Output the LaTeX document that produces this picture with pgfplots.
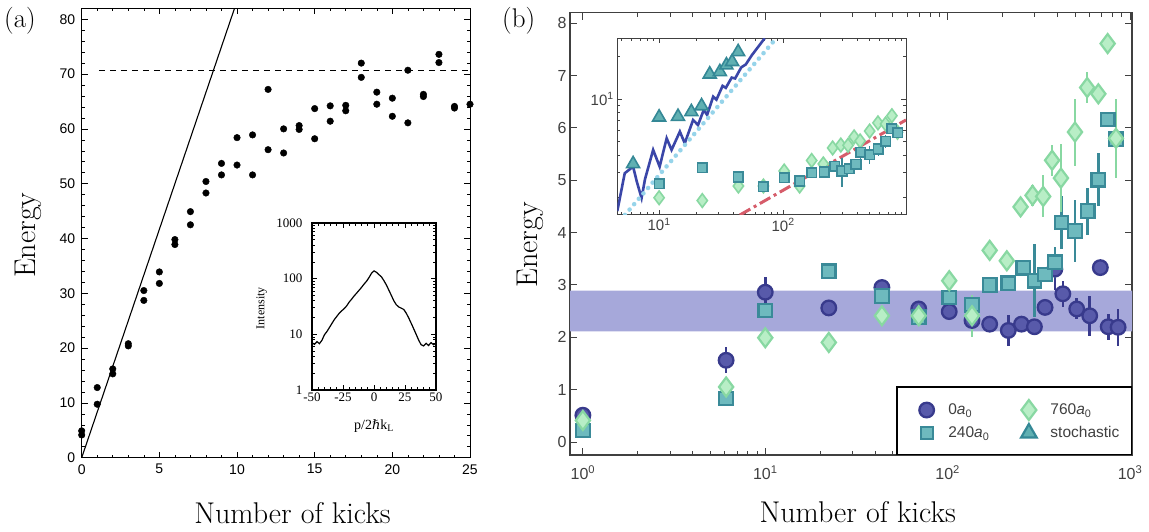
\documentclass[border=0pt]{standalone}
\usepackage{fontspec}
\usepackage{pgfplots}
\pgfplotsset{compat=1.18}
\usepackage{pgfplotstable}
\newfontfamily\helv{Liberation Sans}
\newfontfamily\timesf{Liberation Serif}
\newfontfamily\djs{DejaVu Serif}

\definecolor{circfill}{RGB}{88,90,170}
\definecolor{circedge}{RGB}{56,58,140}
\definecolor{sqfill}{RGB}{110,186,190}
\definecolor{sqedge}{RGB}{58,138,152}
\definecolor{dmfill}{RGB}{184,238,198}
\definecolor{dmedge}{RGB}{136,216,162}
\definecolor{trfill}{RGB}{96,176,178}
\definecolor{tredge}{RGB}{52,136,150}
\definecolor{bandcol}{RGB}{166,168,218}
\definecolor{lineblue}{RGB}{58,70,168}
\definecolor{dotcyan}{RGB}{150,212,234}
\definecolor{dashred}{RGB}{214,92,106}
\definecolor{tickgray}{RGB}{64,64,64}

% ---------- panel (a) data ----------
\pgfplotstableread{
x y
0 4.9
0 4.15
1 12.8
1 9.76
2 16.2
2 15.3
3 20.8
3 20.4
4 30.5
4 28.7
5 33.9
5 31.8
6 39.8
6 38.9
7 44.9
7 42.5
8 50.4
8 48.3
9 53.7
9 51.6
10 58.4
10 53.4
11 58.9
11 51.6
12 67.2
12 56.2
13 60.0
13 55.6
14 60.6
14 59.9
15 63.7
15 58.2
16 64.2
16 61.4
17 64.3
17 63.3
18 72.0
18 69.4
19 66.7
19 64.5
20 65.6
20 62.3
21 70.7
21 61.1
22 66.3
22 65.9
23 73.6
23 72.1
24 64.1
24 63.8
25 64.5
}\kicksdata

\pgfplotstableread{
x y
-50 7.1
-48 6.6
-46 7.4
-44 6.8
-42 7.8
-40 9.8
-38 11.2
-36 13.2
-34 15.6
-32 18.4
-30 21.0
-28 24.0
-26 26.5
-24 29.0
-22 32.5
-20 38
-18 43
-16 49
-14 55
-12 62
-10 70
-8 80
-6 90
-4 105
-2 125
0 138
2 130
4 118
6 108
8 92
10 77
12 62
14 50
16 40
18 34
20 31
22 29.5
24 28
26 24
28 19.7
30 15.8
32 12.6
34 10
36 7.9
38 6.5
40 6.2
42 6.9
44 6.3
46 7.1
48 6.5
50 6.9
}\intensdata

% ---------- panel (b) data ----------
\pgfplotstableread{
x y e
1 0.51 0.05
6.1 1.56 0.25
10 2.86 0.3
22.3 2.56 0.08
43.6 2.95 0.1
69.4 2.54 0.15
102 2.49 0.08
136 2.32 0.12
170 2.25 0.08
215 2.13 0.3
254 2.25 0.1
299 2.20 0.1
342 2.57 0.15
387 3.30 0.4
428 2.83 0.25
510 2.54 0.2
601 2.41 0.38
687 3.33 0.15
759 2.20 0.25
860 2.19 0.35
}\circdata

\pgfplotstableread{
x y e
1 0.22 0.05
6.1 0.83 0.05
10 2.51 0.12
22.3 3.26 0.12
43.6 2.79 0.1
69.4 2.38 0.08
102 2.76 0.1
136 2.62 0.1
170 3.00 0.15
215 3.03 0.1
260 3.33 0.1
299 3.08 0.7
342 3.20 0.1
387 3.43 0.3
421 4.19 0.5
499 4.03 0.6
586 4.41 0.45
670 5.01 0.5
754 6.16 0.15
837 5.78 0.15
}\sqdata

\pgfplotstableread{
x y e
1 0.41 0.05
6.1 1.05 0.05
10 1.99 0.05
22.3 1.90 0.05
43.6 2.41 0.05
69.4 2.41 0.08
102 3.08 0.1
136 2.41 0.4
170 3.66 0.1
211 3.46 0.1
251 4.49 0.15
292 4.71 0.2
334 4.69 0.4
374 5.38 0.3
418 5.04 0.65
499 5.92 0.64
582 6.77 0.3
670 6.65 0.1
754 7.61 0.1
837 5.80 0.75
}\dmdata

\pgfplotstableread{
x y
6.17 3.46
10 7.42
14.2 7.5
18.2 8.1
22 8.92
25.6 15
30.9 15.6
34.9 17.4
38.8 18.4
43.4 21.6
}\trdata

\pgfplotstableread{
x y
4.6 1.6
5.28 2.97
6.17 3.31
6.6 2.6
7.22 1.98
7.7 2.7
8.95 4.35
10.1 3.31
11.5 5.26
12.6 4.35
14.7 5.87
16.1 4.85
18.8 7.1
20.6 6.54
22.9 8.36
24.4 7.71
27.3 10.4
29.0 9.9
32.5 12.4
34.5 12.0
38.5 14.2
41 14.0
46 16.8
50 17.6
56 20.5
63 23.5
71 27
}\bluedata

\begin{document}
\begin{tikzpicture}
\path[use as bounding box] (0pt,0pt) rectangle (1149pt,531pt);

\node[anchor=north west, inner sep=0pt, font=\fontsize{27}{30}\selectfont] at (4pt,524pt) {(a)};
\node[anchor=north west, inner sep=0pt, font=\fontsize{27}{30}\selectfont] at (502pt,524pt) {(b)};

% ================= panel (a) =================
\begin{axis}[
  at={(81.7pt,73.3pt)}, anchor=south west, scale only axis,
  width=388.3pt, height=449.4pt,
  xmin=0, xmax=25, ymin=0, ymax=82,
  xtick={0,5,10,15,20,25}, xticklabels={0,5,10,15,20,25},
  ytick={0,10,20,30,40,50,60,70,80}, yticklabels={0,10,20,30,40,50,60,70,80},
  minor x tick num=4, minor y tick num=4,
  tick align=inside, major tick length=6pt, minor tick length=3pt,
  ticklabel style={font=\helv\fontsize{14}{16}\selectfont},
  yticklabel style={xshift=-3pt},
  xticklabel style={yshift=-3pt},
  axis line style={line width=0.8pt},
  every tick/.style={black, line width=0.6pt},
  xlabel={Number of kicks}, ylabel={Energy},
  label style={font=\fontsize{30}{34}\selectfont},
  xlabel style={at={(axis description cs:0.543,-0.146)}, anchor=base},
  ylabel style={at={(axis description cs:-0.118,0.495)}, anchor=base},
]
\addplot[black, line width=1.1pt] coordinates {(0,0) (9.84,82)};
\addplot[black, line width=0.9pt, dash pattern=on 6pt off 5pt] coordinates {(1.1,70.6) (25,70.6)};
\addplot[only marks, mark=*, mark size=3.3pt, black] table[x=x,y=y] {\kicksdata};
\end{axis}

% inset (a)
\begin{axis}[
  at={(312pt,141pt)}, anchor=south west, scale only axis,
  width=124pt, height=167pt,
  ymode=log, xmin=-50, xmax=50, ymin=1, ymax=1000,
  xtick={-50,-25,0,25,50}, xticklabels={-50,-25,0,25,50},
  minor x tick num=4,
  ytick={1,10,100,1000}, yticklabels={1,10,100,1000},
  minor ytick={2,3,...,9,20,30,...,90,200,300,...,900},
  tick align=inside, major tick length=5pt, minor tick length=3pt,
  ticklabel style={font=\timesf\fontsize{13}{15}\selectfont},
  yticklabel style={xshift=-6pt},
  xticklabel style={yshift=1pt},
  axis line style={line width=1.2pt},
  every tick/.style={black, line width=0.7pt},
  xlabel={p/2{\djs\fontsize{13}{15}\selectfont ℏ}k\textsubscript{L}}, ylabel={Intensity},
  xlabel style={font=\timesf\fontsize{14}{16}\selectfont, at={(axis description cs:0.5,0)}, anchor=north, yshift=-26pt},
  ylabel style={font=\timesf\fontsize{12}{14}\selectfont, at={(axis description cs:-0.405,0.49)}, anchor=center},
  axis background/.style={fill=white},
]
\addplot[black, line width=1.2pt] table[x=x,y=y] {\intensdata};
\end{axis}

% ================= panel (b) =================
\begin{axis}[
  at={(570pt,76pt)}, anchor=south west, scale only axis,
  width=562pt, height=442.3pt,
  xmode=log, xmin=0.85, xmax=1025, ymin=-0.25, ymax=8.2,
  xtick={1,10,100,1000},
  xticklabels={{10\textsuperscript{0}},{10\textsuperscript{1}},{10\textsuperscript{2}},{10\textsuperscript{3}}},
  minor xtick={2,3,...,9,20,30,...,90,200,300,...,900},
  ytick={0,1,2,3,4,5,6,7,8}, yticklabels={0,1,2,3,4,5,6,7,8},
  tick align=inside, major tick length=7pt, minor tick length=4pt,
  ticklabel style={font=\helv\fontsize{16}{18}\selectfont, text=tickgray},
  xticklabel style={yshift=-7pt},
  axis line style={draw=tickgray, line width=1.1pt},
  every tick/.style={tickgray, line width=0.8pt},
  xlabel={Number of kicks}, ylabel={Energy},
  label style={font=\fontsize{30}{34}\selectfont},
  xlabel style={at={(axis description cs:0.512,-0.153)}, anchor=base},
  ylabel style={at={(axis description cs:-0.057,0.475)}, anchor=base},
  legend columns=2,
  legend cell align=left,
  legend style={at={(1,0)}, anchor=south east, draw=black, line width=1.2pt,
    font=\helv\fontsize{15.5}{18}\selectfont, text=tickgray,
    inner xsep=10pt, inner ysep=13pt, row sep=4pt,
    nodes={inner xsep=2pt},
    /tikz/every even column/.append style={column sep=18pt}},
  legmark/.style={legend image code/.code={\path (0pt,0pt) (38pt,0pt); \draw[##1, draw=none] plot coordinates {(19pt,0pt)};}},
]
\addplot[forget plot, draw=none, fill=bandcol] coordinates {(0.85,2.11) (1025,2.11) (1025,2.89) (0.85,2.89) (0.85,2.11)};

% error bars (behind markers)
\addplot[forget plot, only marks, mark=none, error bars/.cd, y dir=both, y explicit, error mark=none,
  error bar style={draw=circedge, line width=2.6pt}] table[x=x,y=y,y error=e] {\circdata};
\addplot[forget plot, only marks, mark=*, mark size=7.3pt, mark options={fill=circfill, draw=circedge, line width=2.3pt}] table[x=x,y=y] {\circdata};

\addplot[forget plot, only marks, mark=none, error bars/.cd, y dir=both, y explicit, error mark=none,
  error bar style={draw=sqedge, line width=2.6pt}] table[x=x,y=y,y error=e] {\sqdata};
\addplot[forget plot, only marks, mark=square*, mark size=6.8pt, mark options={fill=sqfill, draw=sqedge, line width=2.2pt}] table[x=x,y=y] {\sqdata};

\addplot[forget plot, only marks, mark=none, error bars/.cd, y dir=both, y explicit, error mark=none,
  error bar style={draw=dmedge, line width=2.6pt}] table[x=x,y=y,y error=e] {\dmdata};
\addplot[forget plot, only marks, mark=diamond*, mark size=9.5pt, mark options={fill=dmfill, draw=dmedge, line width=2.2pt}] table[x=x,y=y] {\dmdata};

\addlegendimage{legmark, mark=*, mark size=7.3pt, mark options={fill=circfill, draw=circedge, line width=2.3pt}}
\addlegendentry{0\textit{a}\textsubscript{0}}
\addlegendimage{legmark, mark=diamond*, mark size=10pt, mark options={fill=dmfill, draw=dmedge, line width=2.2pt}}
\addlegendentry{760\textit{a}\textsubscript{0}}
\addlegendimage{legmark, mark=square*, mark size=6pt, mark options={fill=sqfill, draw=sqedge, line width=2.2pt}}
\addlegendentry{240\textit{a}\textsubscript{0}}
\addlegendimage{legmark, mark=triangle*, mark size=9pt, mark options={fill=trfill, draw=tredge, line width=2.2pt}}
\addlegendentry{stochastic}
\end{axis}

% inset (b)
\begin{axis}[
  at={(617.3pt,316pt)}, anchor=south west, scale only axis,
  width=288.7pt, height=176.7pt,
  xmode=log, ymode=log, xmin=4.6, xmax=980, ymin=1.5, ymax=27,
  xtick={10,100},
  xticklabels={{10\textsuperscript{1}},{10\textsuperscript{2}}},
  minor xtick={5,6,7,8,9,20,30,...,90,200,300,...,900},
  ytick={10}, yticklabels={{10\textsuperscript{1}}},
  minor ytick={2,3,...,9,20},
  tick align=inside, major tick length=5pt, minor tick length=3pt,
  ticklabel style={font=\helv\fontsize{15}{17}\selectfont, text=tickgray},
  axis line style={draw=tickgray, line width=1pt},
  every tick/.style={tickgray, line width=0.7pt},
  axis background/.style={fill=white},
]
\addplot[dashred, line width=3pt, dash pattern=on 12pt off 4pt on 3pt off 4pt] coordinates {(44.8,1.5) (980,7.1)};
\addplot[only marks, mark=diamond*, mark size=6.8pt, mark options={fill=dmfill, draw=dmedge, line width=1.6pt}] table[x=x,y=y] {\dmdata};
\addplot[only marks, mark=none, error bars/.cd, y dir=both, y explicit, error mark=none,
  error bar style={draw=sqedge, line width=1.6pt}] table[x=x,y=y,y error=e] {\sqdata};
\addplot[only marks, mark=square*, mark size=4.8pt, mark options={fill=sqfill, draw=sqedge, line width=1.6pt}] table[x=x,y=y] {\sqdata};
\addplot[lineblue, line width=2.6pt] table[x=x,y=y] {\bluedata};
\addplot[dotcyan, line width=4.5pt, dash pattern=on 0.1pt off 7pt, line cap=round] coordinates {(5.3,1.5) (88,27)};
\addplot[only marks, mark=triangle*, mark size=7.5pt, mark options={fill=trfill, draw=tredge, line width=1.6pt}] table[x=x,y=y] {\trdata};
\end{axis}
\end{tikzpicture}
\end{document}
